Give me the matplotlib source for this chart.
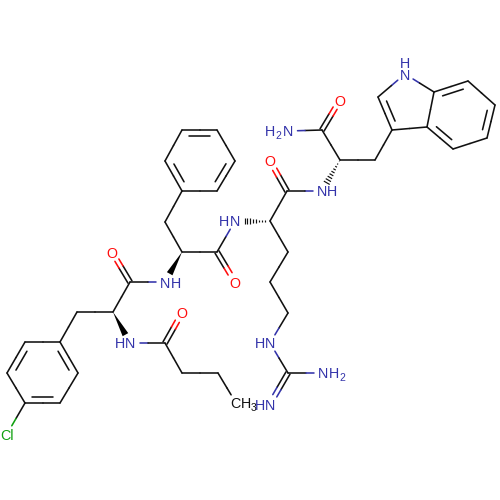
import numpy as np
import matplotlib
matplotlib.use("Agg")
import matplotlib.pyplot as plt
from matplotlib.patches import Polygon

# Atom names and their positions (pixels)
atom_names = ["N1","C2","C3","C3a","C7a","C7","C6","C5","C4","CBw","CAw","Cam","Oam","Nam",
              "Nw","Cr","Or","CAr","Nr","CBr","CGr","CDr","Ng","Cg","Ng2","Ng3",
              "Cf","Of","CAf","CBf","F1","F2","F3","F4","F5","F6","Nf",
              "Cc","Oc","CAc","CBc","P1","P2","P3","P4","P5","P6","Cl","Nc",
              "Cb","Ob","B1","B2","B3"]
atom_x = [405,378,392,427,434,468,495,487,453,375,340,322,340,288,
          322,287,270,270,235,288,270,288,270,288,323,270,
          217,235,182,165,182,217,235,217,182,165,165,
          130,112,113,77,60,25,7,25,60,78,7,130,
          165,182,182,218,236]
atom_y = [74,97,130,127,92,81,105,138,149,160,160,130,100,131,
          191,191,161,221,221,252,282,313,343,373,373,404,
          252,282,252,222,191,191,161,130,130,161,282,
          282,252,312,312,342,342,373,403,403,373,434,343,
          343,313,373,373,403]

# Bonds: (atom, atom)
single_bonds = [("N1","C2"),("N1","C7a"),("C3","C3a"),("C3a","C7a"),("C7","C6"),("C5","C4"),
                ("C3","CBw"),("CBw","CAw"),("CAw","Cam"),("Cam","Nam"),("Nw","Cr"),("Cr","CAr"),
                ("CAr","CBr"),("CBr","CGr"),("CGr","CDr"),("CDr","Ng"),("Ng","Cg"),("Cg","Ng2"),
                ("Cf","Nr"),("Cf","CAf"),("CAf","CBf"),("CBf","F1"),("F1","F2"),("F3","F4"),("F5","F6"),
                ("Nf","Cc"),("Cc","CAc"),("CAc","CBc"),("CBc","P1"),("P1","P2"),("P3","P4"),("P5","P6"),
                ("P4","Cl"),("Nc","Cb"),("Cb","B1"),("B1","B2"),("B2","B3")]
centered_double_bonds = [("Cam","Oam"),("Cr","Or"),("Cf","Of"),("Cc","Oc"),("Cb","Ob"),("Cg","Ng3")]
# Ring double bonds: (atom, atom, ring centre atom pair whose midpoint is inside the ring)
ring_double_bonds = [("C2","C3","N1","C3a"),("C7a","C7","C7a","C5"),("C6","C5","C7a","C5"),("C4","C3a","C7a","C5"),
                     ("F2","F3","F1","F4"),("F4","F5","F1","F4"),("F6","F1","F1","F4"),
                     ("P1","P6","P1","P4"),("P2","P3","P1","P4"),("P4","P5","P1","P4")]
solid_wedges = [("CAf","Nf"),("CAc","Nc")]
hashed_wedges = [("CAw","Nw"),("CAr","Nr")]

# Heteroatom colours and labels
atom_colors = {"N1":"#3333AA","Nam":"#3333AA","Nw":"#3333AA","Nr":"#3333AA","Ng":"#3333AA","Ng2":"#3333AA",
               "Ng3":"#3333AA","Nf":"#3333AA","Nc":"#3333AA","Oam":"#FF0D0D","Or":"#FF0D0D","Of":"#FF0D0D",
               "Oc":"#FF0D0D","Ob":"#FF0D0D","Cl":"#0FA00F","B3":"#000000"}
# label pieces: (atom, text, dx, dy, subscript)
label_pieces = [("N1","N",0,0,False),("N1","H",0,-12,False),
                ("Oam","O",0,0,False),("Or","O",0,0,False),("Of","O",0,0,False),("Oc","O",0,0,False),("Ob","O",0,0,False),
                ("Nam","N",0,0,False),("Nam","2",-10,4,True),("Nam","H",-17.5,0,False),
                ("Nw","N",0,0,False),("Nw","H",10.5,0,False),
                ("Nf","N",0,0,False),("Nf","H",10.5,0,False),
                ("Nr","N",0,0,False),("Nr","H",-10.5,0,False),
                ("Nc","N",0,0,False),("Nc","H",-10.5,0,False),
                ("Ng","N",0,0,False),("Ng","H",-10.5,0,False),
                ("Ng3","N",0,0,False),("Ng3","H",-10.5,0,False),
                ("Ng2","N",0,0,False),("Ng2","H",10.5,0,False),("Ng2","2",19,4,True),
                ("Cl","Cl",0,0,False),
                ("B3","C",-0.5,0,False),("B3","H",9.5,0,False),("B3","3",18,4,True)]

BLACK = "#111111"
LW = 1.15
TRIM = 9.5
pos = {n: np.array([x, y], float) for n, x, y in zip(atom_names, atom_x, atom_y)}
labelled = set(p[0] for p in label_pieces)

fig = plt.figure(figsize=(5, 5), dpi=100, facecolor="white")
ax = fig.add_axes([0, 0, 1, 1])
ax.set_xlim(0, 500)
ax.set_ylim(500, 0)
ax.axis("off")


def stroke(a, b, pa, pb):
    """Draw a two-coloured stroke between pa and pb, trimmed at labelled atoms."""
    mid = (pa + pb) / 2
    u = (pb - pa) / np.linalg.norm(pb - pa)
    start = pa + u * TRIM if a in labelled else pa
    end = pb - u * TRIM if b in labelled else pb
    ca = atom_colors.get(a, BLACK) if a in labelled else BLACK
    cb = atom_colors.get(b, BLACK) if b in labelled else BLACK
    for s, e, c in ((start, mid, ca), (mid, end, cb)):
        ax.plot([s[0], e[0]], [s[1], e[1]], color=c if c != "#000000" else BLACK,
                lw=LW, solid_capstyle="round")


for a, b in single_bonds:
    stroke(a, b, pos[a], pos[b])

for a, b in centered_double_bonds:
    u = (pos[b] - pos[a]) / np.linalg.norm(pos[b] - pos[a])
    n = np.array([-u[1], u[0]]) * 2.3
    stroke(a, b, pos[a] + n, pos[b] + n)
    stroke(a, b, pos[a] - n, pos[b] - n)

for a, b, r1, r2 in ring_double_bonds:
    stroke(a, b, pos[a], pos[b])
    u = (pos[b] - pos[a]) / np.linalg.norm(pos[b] - pos[a])
    n = np.array([-u[1], u[0]])
    centre = (pos[r1] + pos[r2]) / 2
    if np.dot(centre - pos[a], n) < 0:
        n = -n
    s = pos[a] + n * 6.3 + u * 7
    e = pos[b] + n * 6.3 - u * 7
    ax.plot([s[0], e[0]], [s[1], e[1]], color=BLACK, lw=LW, solid_capstyle="round")

for a, b in solid_wedges:
    u = (pos[b] - pos[a]) / np.linalg.norm(pos[b] - pos[a])
    n = np.array([-u[1], u[0]]) * 3.2
    tip = pos[b] - u * TRIM
    ax.add_patch(Polygon([pos[a], tip + n, tip - n], closed=True, fc="black", ec="none"))

for a, b in hashed_wedges:
    L = np.linalg.norm(pos[b] - pos[a]) - TRIM
    u = (pos[b] - pos[a]) / np.linalg.norm(pos[b] - pos[a])
    n = np.array([-u[1], u[0]])
    for t in np.linspace(0.06, 1, 9):
        c = pos[a] + u * L * t
        h = 3.4 * t
        ax.plot([c[0] - n[0] * h, c[0] + n[0] * h], [c[1] - n[1] * h, c[1] + n[1] * h],
                color=BLACK, lw=0.85, solid_capstyle="butt")

for atom, text, dx, dy, sub in label_pieces:
    ax.text(pos[atom][0] + dx, pos[atom][1] + dy, text, ha="center", va="center_baseline",
            family="Liberation Sans", fontsize=7.5 if sub else 10.3,
            color=atom_colors.get(atom, BLACK) if atom != "B3" else BLACK)

fig.savefig("out.png", dpi=100, facecolor="white")
